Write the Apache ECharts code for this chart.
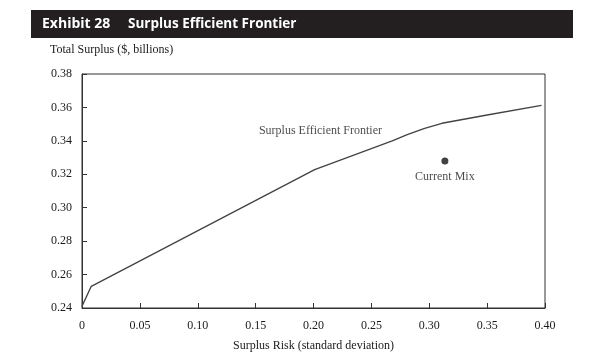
<!DOCTYPE html>
<html>
<head>
<meta charset="utf-8">
<script src="https://cdn.jsdelivr.net/npm/echarts@6/dist/echarts.min.js"></script>
<style>
html,body{margin:0;padding:0;background:#fff;}
#c{width:608px;height:357px;}
</style>
</head>
<body>
<div id="c"></div>
<script>
// Data
var frontierRisk    = [0, 0.008, 0.201, 0.268, 0.281, 0.296, 0.311, 0.350, 0.397];
var frontierSurplus = [0.241, 0.253, 0.3228, 0.3400, 0.3437, 0.3475, 0.3505, 0.3555, 0.3612];
var currentMix = [0.3135, 0.328];
var frontierLabelAt = [0.206, 0.3458];
var xTicks = [0, 0.05, 0.10, 0.15, 0.20, 0.25, 0.30, 0.35, 0.40];
var yTicks = [0.24, 0.26, 0.28, 0.30, 0.32, 0.34, 0.36, 0.38];

var frontier = frontierRisk.map(function (x, i) { return [x, frontierSurplus[i]]; });
var serif = '"Liberation Serif", "Times New Roman", serif';

var chart = echarts.init(document.getElementById('c'), null, {renderer: 'canvas'});
chart.setOption({
  animation: false,
  backgroundColor: '#fff',
  graphic: [
    {type: 'rect', shape: {x: 31, y: 10, width: 542, height: 28}, style: {fill: '#231f20'}},
    {type: 'text', x: 42, y: 24, style: {text: 'Exhibit 28', fill: '#fff', font: 'bold 14px "Open Sans", "Noto Sans", sans-serif', verticalAlign: 'middle'}},
    {type: 'text', x: 128, y: 24, style: {text: 'Surplus Efficient Frontier', fill: '#fff', font: 'bold 13.5px "Open Sans", "Noto Sans", sans-serif', verticalAlign: 'middle'}},
    {type: 'text', x: 50, y: 50, style: {text: 'Total Surplus ($, billions)', fill: '#1a1a1a', font: '12px ' + serif, verticalAlign: 'middle'}}
  ],
  grid: {left: 82, right: 63, top: 74, bottom: 45, show: true, borderColor: '#333', borderWidth: 1, backgroundColor: 'transparent'},
  xAxis: {
    type: 'value', min: 0, max: 0.4, interval: 0.05,
    name: 'Surplus Risk (standard deviation)', nameLocation: 'middle', nameGap: 32,
    nameTextStyle: {fontFamily: serif, fontSize: 12, color: '#1a1a1a'},
    axisLine: {show: true, lineStyle: {color: '#333', width: 1}},
    axisTick: {show: true, inside: true, length: 5, lineStyle: {color: '#333'}},
    splitLine: {show: false},
    axisLabel: {fontFamily: serif, fontSize: 12, color: '#1a1a1a', margin: 12,
      formatter: function (v) { return v === 0 ? '0' : v.toFixed(2); }}
  },
  yAxis: {
    type: 'value', min: 0.24, max: 0.38, interval: 0.02,
    axisLine: {show: true, lineStyle: {color: '#333', width: 1}},
    axisTick: {show: true, inside: true, length: 5, lineStyle: {color: '#333'}},
    splitLine: {show: false},
    axisLabel: {fontFamily: serif, fontSize: 12, color: '#1a1a1a', margin: 10,
      formatter: function (v) { return v.toFixed(2); }}
  },
  series: [
    {
      type: 'line', data: frontier, symbol: 'none', smooth: false,
      lineStyle: {color: '#444', width: 1.4}, z: 2
    },
    {
      type: 'scatter', data: [currentMix], symbol: 'circle', symbolSize: 7,
      itemStyle: {color: '#111'},
      label: {show: true, position: 'bottom', distance: 6, formatter: 'Current Mix',
        fontFamily: serif, fontSize: 12, color: '#1a1a1a'}
    },
    {
      type: 'scatter', data: [frontierLabelAt], symbolSize: 0,
      label: {show: true, position: 'inside', formatter: 'Surplus Efficient Frontier',
        fontFamily: serif, fontSize: 12, color: '#1a1a1a'},
      silent: true
    }
  ]
});
</script>
</body>
</html>
